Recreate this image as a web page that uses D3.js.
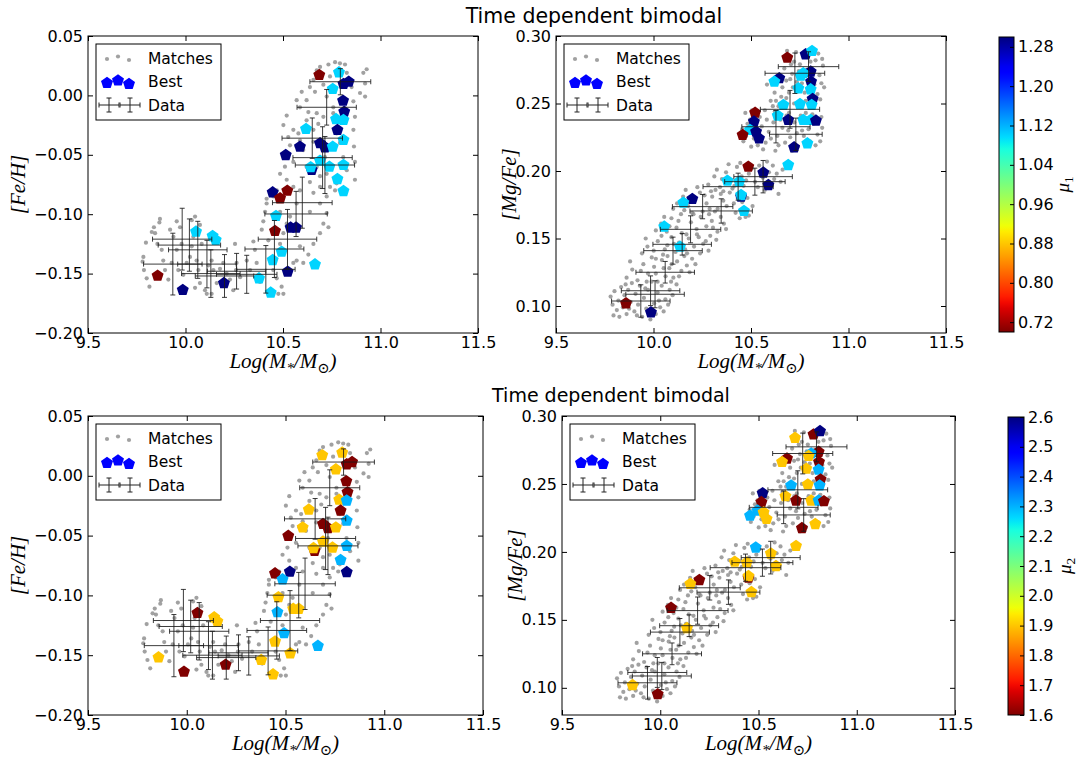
<!DOCTYPE html>
<html><head><meta charset="utf-8">
<script src="https://cdn.jsdelivr.net/npm/d3@7"></script>
<style>body{margin:0;background:#fff;} svg{display:block;}</style>
</head><body><svg id="chart" width="1078" height="762"></svg>
<script>
// ---------------- DATA ----------------
const titleText = "Time dependent bimodal";
const xTicks = [9.5, 10.0, 10.5, 11.0, 11.5];
const feTicks = [-0.20, -0.15, -0.10, -0.05, 0.00, 0.05];
const mgTicks = [0.10, 0.15, 0.20, 0.25, 0.30];
const mu1Ticks = [0.72, 0.80, 0.88, 0.96, 1.04, 1.12, 1.20, 1.28];
const mu2Ticks = [1.6, 1.7, 1.8, 1.9, 2.0, 2.1, 2.2, 2.3, 2.4, 2.5, 2.6];
const mu1Range = [0.70, 1.30];
const mu2Range = [1.6, 2.6];

// "Matches" models: [log M*, [Fe/H]]
const matchesFe = [
[9.869,-0.104],[9.866,-0.107],[9.838,-0.111],[9.827,-0.115],[9.797,-0.124],[9.784,-0.136],[9.780,-0.140],[9.787,-0.147],[9.801,-0.154],[9.815,-0.161],
[9.844,-0.116],[9.856,-0.125],[9.878,-0.130],[9.886,-0.139],[9.895,-0.147],[9.912,-0.155],[9.921,-0.113],[9.938,-0.119],[9.955,-0.106],[9.972,-0.111],
[9.980,-0.125],[9.955,-0.130],[9.929,-0.141],[9.963,-0.147],[9.989,-0.151],[10.006,-0.141],[10.023,-0.136],[10.032,-0.127],[10.040,-0.119],[10.032,-0.105],
[10.049,-0.102],[10.074,-0.109],[10.083,-0.125],[10.057,-0.139],[10.066,-0.147],[10.049,-0.162],[10.074,-0.158],[10.100,-0.164],[10.117,-0.143],[10.134,-0.139],
[10.143,-0.147],[10.109,-0.167],[10.134,-0.167],[10.160,-0.158],[10.177,-0.146],[10.194,-0.141],[10.211,-0.150],[10.228,-0.155],[10.245,-0.164],[10.254,-0.125],
[10.262,-0.141],[10.280,-0.153],[10.259,-0.147],
[10.314,-0.139],[10.331,-0.147],[10.348,-0.123],[10.356,-0.130],[10.365,-0.141],[10.382,-0.157],[10.391,-0.113],[10.399,-0.106],[10.408,-0.098],[10.416,-0.091],
[10.425,-0.122],[10.433,-0.139],[10.450,-0.147],[10.468,-0.154],[10.476,-0.167],[10.493,-0.161],[10.502,-0.167],[10.485,-0.125],[10.502,-0.116],[10.519,-0.108],
[10.536,-0.102],[10.553,-0.141],[10.570,-0.139],[10.587,-0.127],[10.604,-0.141],[10.630,-0.134],[10.656,-0.125],[10.690,-0.116],[10.707,-0.108],[10.724,-0.099],
[10.733,-0.111],[10.690,-0.091],[10.638,-0.098],[10.570,-0.091],[10.485,-0.098],
[10.502,-0.025],[10.519,-0.017],[10.527,-0.035],[10.536,-0.042],[10.553,-0.029],[10.570,-0.004],[10.587,-0.010],[10.596,0.003],[10.621,-0.004],[10.638,0.007],
[10.656,0.013],[10.664,0.003],[10.673,0.021],[10.690,0.024],[10.707,0.009],[10.733,0.026],[10.741,0.016],[10.767,0.028],[10.792,0.027],[10.818,0.026],
[10.827,0.019],[10.852,0.007],[10.861,-0.005],[10.869,-0.018],[10.861,-0.029],[10.864,-0.043],[10.869,-0.056],[10.869,-0.071],[10.827,-0.063],[10.809,-0.052],
[10.775,-0.074],[10.767,-0.080],[10.741,-0.077],[10.724,-0.066],[10.690,-0.068],[10.673,-0.060],[10.638,-0.073],[10.621,-0.060],[10.604,-0.046],[10.587,-0.038],
[10.579,-0.032],[10.656,-0.029],[10.681,-0.024],[10.707,-0.018],[10.758,-0.015],[10.775,-0.032],[10.792,-0.040],[10.715,-0.052],[10.912,0.019],[10.921,0.010],
[10.929,0.022],[10.921,-0.001],[10.895,0.002],[10.690,-0.038],[10.656,-0.039],[10.630,-0.014],[10.724,-0.001],[10.758,-0.010],[10.673,-0.015],[10.621,-0.021],
[10.570,-0.043],[10.553,-0.056],[10.510,-0.060],[10.485,-0.066],[10.468,-0.080],[10.416,-0.087],[10.450,-0.085],[10.519,-0.071],[10.553,-0.077],[10.587,-0.080],
[10.656,-0.082],[10.724,-0.085],[10.690,-0.077]
];

// "Matches" models: [log M*, [Mg/Fe]]
const matchesMg = [
[9.78,0.107],[9.79,0.101],[9.80,0.111],[9.812,0.097],[9.82,0.104],[9.834,0.114],[9.843,0.099],[9.851,0.108],[9.862,0.094],[9.87,0.112],
[9.883,0.103],[9.889,0.117],[9.902,0.096],[9.908,0.109],[9.921,0.101],[9.93,0.115],[9.942,0.092],[9.951,0.106],[9.963,0.098],[9.972,0.112],
[9.984,0.090],[9.99,0.118],[10.003,0.102],[10.012,0.094],[10.021,0.110],[10.034,0.099],[10.042,0.115],[10.061,0.105],[10.083,0.112],[10.098,0.108],[10.118,0.116],
[9.862,0.121],[9.891,0.127],[9.918,0.119],[9.948,0.131],[9.972,0.124],[10.003,0.129],[10.021,0.118],[10.043,0.134],[10.062,0.122],[10.081,0.128],
[10.102,0.121],[10.121,0.133],[10.143,0.126],[10.171,0.130],[10.198,0.135],[10.072,0.137],[9.991,0.136],
[9.941,0.139],[9.969,0.144],[10.001,0.141],[10.022,0.148],[10.049,0.138],[10.071,0.145],[10.092,0.151],[10.113,0.140],[10.131,0.147],[10.162,0.142],
[10.181,0.150],[10.208,0.144],[10.239,0.139],[10.268,0.148],[10.291,0.152],[10.041,0.152],
[10.012,0.156],[10.039,0.161],[10.068,0.155],[10.092,0.165],[10.118,0.158],[10.141,0.168],[10.169,0.153],[10.192,0.162],[10.221,0.157],[10.242,0.166],
[10.271,0.159],[10.299,0.163],[10.328,0.155],[10.361,0.161],[10.101,0.172],[10.252,0.170],[10.322,0.149],
[10.121,0.176],[10.152,0.181],[10.178,0.174],[10.211,0.179],[10.238,0.184],[10.272,0.176],[10.301,0.181],[10.329,0.172],[10.358,0.178],[10.391,0.184],
[10.421,0.169],[10.442,0.165],[10.461,0.172],[10.489,0.167],[10.412,0.176],[10.482,0.180],[10.508,0.174],
[10.281,0.190],[10.312,0.196],[10.341,0.188],[10.372,0.199],[10.401,0.193],[10.428,0.203],[10.462,0.189],[10.489,0.198],[10.521,0.192],[10.542,0.204],
[10.571,0.186],[10.592,0.199],[10.619,0.194],[10.641,0.183],[10.662,0.201],[10.561,0.195],[10.452,0.196],[10.351,0.194],
[10.461,0.222],[10.482,0.235],[10.501,0.218],[10.522,0.241],[10.541,0.228],[10.562,0.216],[10.581,0.238],[10.602,0.224],[10.622,0.244],[10.641,0.219],
[10.661,0.232],[10.682,0.241],[10.701,0.225],[10.722,0.236],[10.741,0.218],[10.762,0.230],[10.781,0.243],[10.802,0.222],[10.821,0.235],[10.841,0.227],
[10.861,0.240],[10.471,0.243],[10.531,0.231],[10.591,0.229],[10.651,0.238],[10.711,0.215],[10.771,0.226],[10.831,0.219],[10.571,0.245],[10.691,0.230],
[10.601,0.252],[10.621,0.258],[10.641,0.248],[10.661,0.262],[10.681,0.254],[10.701,0.268],[10.721,0.250],[10.741,0.259],[10.761,0.265],[10.781,0.252],
[10.801,0.262],[10.821,0.248],[10.841,0.257],[10.861,0.265],[10.671,0.276],[10.691,0.284],[10.711,0.272],[10.731,0.288],[10.751,0.279],[10.771,0.270],
[10.791,0.285],[10.811,0.276],[10.831,0.282],[10.851,0.271],[10.869,0.278],[10.651,0.270],[10.721,0.281],[10.801,0.290],[10.582,0.264],[10.631,0.266],
[9.795,0.093],[9.825,0.092],[9.857,0.116],[9.875,0.098],[9.915,0.093],[9.958,0.113],[9.995,0.097],[10.028,0.104],[10.052,0.096],[10.075,0.101],[10.09,0.118],
[9.88,0.133],[9.935,0.126],[9.965,0.118],[10.012,0.124],[10.052,0.128],[10.093,0.131],[10.131,0.122],[10.158,0.137],[10.185,0.125],[10.215,0.131],
[9.96,0.150],[10.012,0.135],[10.058,0.142],[10.105,0.146],[10.145,0.154],[10.172,0.139],[10.223,0.153],[10.255,0.146],[10.282,0.141],[10.305,0.158],
[10.055,0.166],[10.082,0.159],[10.128,0.163],[10.158,0.171],[10.205,0.168],[10.232,0.151],[10.285,0.168],[10.315,0.170],[10.345,0.166],[10.372,0.157],
[10.165,0.186],[10.198,0.169],[10.225,0.188],[10.262,0.182],[10.288,0.172],[10.318,0.186],[10.345,0.183],[10.375,0.174],[10.405,0.187],[10.432,0.180],[10.455,0.177],[10.472,0.166],
[10.295,0.185],[10.325,0.201],[10.358,0.185],[10.385,0.205],[10.415,0.189],[10.445,0.206],[10.475,0.193],[10.505,0.202],[10.535,0.188],[10.555,0.200],[10.582,0.207],[10.605,0.190],[10.632,0.198],[10.652,0.192],[10.612,0.204],
[10.455,0.231],[10.475,0.226],[10.495,0.238],[10.515,0.224],[10.535,0.219],[10.555,0.233],[10.575,0.221],[10.615,0.236],[10.635,0.226],[10.675,0.221],[10.695,0.243],[10.735,0.228],[10.755,0.241],[10.795,0.231],[10.815,0.242],[10.855,0.222],[10.865,0.232],[10.505,0.245],[10.545,0.240],[10.625,0.215],
[10.612,0.248],[10.655,0.255],[10.695,0.258],[10.735,0.266],[10.775,0.258],[10.815,0.268],[10.855,0.253],[10.875,0.262],[10.685,0.289],[10.715,0.262],[10.745,0.274],[10.765,0.287],[10.805,0.281],[10.845,0.287],[10.865,0.283],[10.705,0.279],[10.785,0.275],[10.825,0.264],[10.681,0.267],[10.628,0.252]
];

// "Best" models in the [Fe/H] panels
const bestFeMass = [10.686,10.787,10.837,10.81,10.755,10.808,10.814,10.772,10.81,10.618,10.779,10.81,10.69,10.715,10.755,10.587,10.514,10.69,10.647,10.642,10.738,10.81,10.779,10.81,10.447,10.522,10.485,10.464,10.539,10.567,10.459,10.493,10.447,10.664,10.524,10.377,10.437,10.197,9.986,9.857,10.054,10.139,10.155];
const bestFeH    = [0.0172,0.0194,0.0115,0.0096,0.0054,-0.0045,-0.0137,-0.020,-0.0207,-0.0283,-0.0291,-0.0375,-0.0403,-0.0437,-0.0432,-0.0432,-0.0502,-0.055,-0.0628,-0.0605,-0.060,-0.0586,-0.0704,-0.0805,-0.0816,-0.0802,-0.0866,-0.1015,-0.1113,-0.1113,-0.1141,-0.1316,-0.1386,-0.1422,-0.1484,-0.154,-0.166,-0.158,-0.1638,-0.1518,-0.1147,-0.1184,-0.1217];
const bestFeMu1  = [0.70,1.10,1.30,1.30,1.10,1.30,1.30,1.10,1.10,1.10,1.30,1.10,1.30,1.30,1.10,1.30,1.30,1.10,1.30,1.10,1.10,1.10,1.10,1.10,1.30,0.70,0.70,1.10,1.30,1.30,0.70,1.10,1.10,1.10,1.30,1.10,1.10,1.30,1.30,0.70,1.10,1.10,1.10];
const bestFeMu2  = [1.9,1.9,1.6,1.6,1.9,1.6,1.6,1.9,2.3,1.9,1.6,2.3,1.6,1.6,1.9,1.9,1.6,1.9,1.6,1.9,1.9,2.3,2.3,2.6,1.6,2.6,2.3,1.9,1.9,1.9,2.3,2.3,1.9,2.3,1.9,1.9,1.9,1.6,1.6,1.9,1.6,1.9,1.9];

// "Best" models in the [Mg/Fe] panels
const bestMgMass = [10.686,10.780,10.813,10.806,10.768,10.755,10.808,10.645,10.62,10.743,10.806,10.816,10.666,10.751,10.811,10.521,10.637,10.691,10.768,10.806,10.833,10.515,10.495,10.526,10.541,10.457,10.789,10.721,10.691,10.486,10.563,10.589,10.379,10.44,10.449,10.449,10.464,10.199,10.153,10.055,10.136,9.859,9.987];
const bestMgFe   = [0.2839,0.2864,0.2889,0.2736,0.2724,0.2706,0.2662,0.2687,0.2662,0.2612,0.2605,0.2533,0.2489,0.2496,0.2489,0.2432,0.241,0.2378,0.2378,0.2378,0.2373,0.2366,0.2304,0.2291,0.2242,0.2267,0.2205,0.2175,0.2044,0.2032,0.1988,0.1896,0.1928,0.1921,0.181,0.1822,0.1704,0.1793,0.1765,0.1588,0.1439,0.1020,0.0953];
const bestMgMu1  = [0.70,1.30,1.10,1.30,1.10,1.10,1.30,1.30,1.10,1.10,1.10,1.30,1.10,1.10,1.10,0.70,1.10,1.30,1.10,1.10,1.30,1.30,1.10,1.30,1.30,0.70,1.10,1.30,1.10,0.70,1.30,1.30,1.10,1.10,1.30,1.10,1.10,1.30,1.10,1.10,1.10,0.70,1.30];
const bestMgMu2  = [1.9,1.6,2.6,1.6,2.3,1.9,1.6,1.6,1.9,1.9,2.3,1.6,2.3,1.9,2.3,2.6,1.9,1.6,1.9,2.3,1.6,1.6,2.3,1.9,1.9,2.3,1.9,1.6,1.9,2.3,1.9,1.9,1.9,1.9,1.6,1.9,1.9,1.6,1.9,1.6,1.9,1.9,1.6];

// Observed "Data" with errors
const dataFeMass    = [9.935,9.983,10.02,10.063,10.11,10.13,10.20,10.262,10.314,10.412,10.456,10.523,10.567,10.599,10.65,10.703,10.715,10.724,10.794];
const dataFeMassErr = [0.15,0.152,0.16,0.15,0.15,0.15,0.15,0.15,0.155,0.15,0.151,0.15,0.16,0.153,0.155,0.152,0.152,0.152,0.156];
const dataFeH       = [-0.142,-0.121,-0.126,-0.130,-0.142,-0.150,-0.152,-0.148,-0.1506,-0.1464,-0.1293,-0.121,-0.0998,-0.0903,-0.036,-0.0524,-0.0586,-0.010,0.0115];
const dataFeHErr    = [0.026,0.026,0.022,0.024,0.020,0.020,0.018,0.015,0.016,0.020,0.024,0.025,0.019,0.0215,0.017,0.026,0.024,0.015,0.011];

const dataMgMass    = [9.935,9.985,10.008,10.06,10.10,10.147,10.19,10.252,10.347,10.434,10.52,10.562,10.628,10.70,10.725,10.73,10.795];
const dataMgMassErr = [0.15,0.15,0.15,0.15,0.15,0.15,0.155,0.155,0.16,0.18,0.155,0.15,0.175,0.152,0.153,0.135,0.155];
const dataMgFe      = [0.1037,0.1113,0.1087,0.125,0.141,0.1457,0.1568,0.1736,0.1704,0.1884,0.1921,0.1958,0.2328,0.2457,0.2724,0.2272,0.2773];
const dataMgFeErr   = [0.012,0.011,0.010,0.008,0.010,0.008,0.010,0.009,0.009,0.010,0.010,0.012,0.012,0.014,0.015,0.012,0.011];

// ---------------- DRAWING ----------------
const svg = d3.select("#chart");
const FONT = "'DejaVu Sans', sans-serif";
const MATH = "'Liberation Serif', 'DejaVu Serif', serif";

function jet(t) {
  t = Math.max(0, Math.min(1, t));
  const f = pts => { for (let i = 1; i < pts.length; i++) { if (t <= pts[i][0]) { const [x0,y0] = pts[i-1], [x1,y1] = pts[i]; return y0 + (y1-y0)*(t-x0)/(x1-x0); } } return pts[pts.length-1][1]; };
  const r = f([[0,0],[0.35,0],[0.66,1],[0.89,1],[1,0.5]]);
  const g = f([[0,0],[0.125,0],[0.375,1],[0.64,1],[0.91,0],[1,0]]);
  const b = f([[0,0.5],[0.11,1],[0.34,1],[0.65,0],[1,0]]);
  return d3.rgb(r*255, g*255, b*255).formatHex();
}
const jetR = t => jet(1 - t);
const color1 = d3.scaleSequential(jetR).domain(mu1Range);
const color2 = d3.scaleSequential(jetR).domain(mu2Range);

function pentagon(R) {
  const p = d3.path();
  for (let k = 0; k < 5; k++) {
    const a = -Math.PI/2 + k*2*Math.PI/5;
    const px = R*Math.cos(a), py = R*Math.sin(a);
    if (k === 0) p.moveTo(px, py); else p.lineTo(px, py);
  }
  p.closePath();
  return p.toString();
}
const PENT = pentagon(6.3);

const matchObjs = arr => arr.map(d => ({m: d[0], v: d[1]}));
const bestObjs = (ms, vs, mus) => ms.map((m, i) => ({m, v: vs[i], mu: mus[i]}));
const dataObjs = (ms, me, vs, ve) => ms.map((m, i) => ({m, me: me[i], v: vs[i], ve: ve[i]}));

function mathLabel(sel, parts, size) {
  parts.forEach(p => {
    const t = sel.append("tspan").text(p.t);
    if (p.sub) t.attr("font-size", size*0.7).attr("dy", size*0.22);
    if (p.up) t.attr("dy", -size*0.22);
    if (p.upright) t.attr("font-style", "normal");
  });
}

function panel(o) {
  const x = d3.scaleLinear().domain([9.5, 11.5]).range([o.l, o.r]);
  const y = d3.scaleLinear().domain(o.yd).range([o.b, o.t]);
  const g = svg.append("g");
  const clipId = "clip" + o.id;
  g.append("clipPath").attr("id", clipId).append("rect")
    .attr("x", o.l).attr("y", o.t).attr("width", o.r - o.l).attr("height", o.b - o.t);
  const plot = g.append("g").attr("clip-path", `url(#${clipId})`);

  plot.append("g").selectAll("circle").data(o.matches).join("circle")
    .attr("cx", d => x(d.m)).attr("cy", d => y(d.v)).attr("r", 2.1)
    .attr("fill", "#8a8a8a").attr("fill-opacity", 0.8);

  plot.append("g").selectAll("path").data(o.best).join("path")
    .attr("d", PENT).attr("transform", d => `translate(${x(d.m)},${y(d.v)})`)
    .attr("fill", d => o.color(d.mu));

  const eb = plot.append("g").attr("stroke", "#1a1a1a").attr("stroke-width", 1).attr("stroke-opacity", 0.85);
  eb.selectAll("line.h").data(o.data).join("line").attr("class", "h")
    .attr("x1", d => x(d.m - d.me)).attr("x2", d => x(d.m + d.me))
    .attr("y1", d => y(d.v)).attr("y2", d => y(d.v));
  eb.selectAll("line.v").data(o.data).join("line").attr("class", "v")
    .attr("x1", d => x(d.m)).attr("x2", d => x(d.m))
    .attr("y1", d => y(d.v - d.ve)).attr("y2", d => y(d.v + d.ve));
  [-1, 1].forEach(s => {
    eb.selectAll(null).data(o.data).join("line")
      .attr("x1", d => x(d.m + s*d.me)).attr("x2", d => x(d.m + s*d.me))
      .attr("y1", d => y(d.v) - 2.5).attr("y2", d => y(d.v) + 2.5);
    eb.selectAll(null).data(o.data).join("line")
      .attr("x1", d => x(d.m) - 2.5).attr("x2", d => x(d.m) + 2.5)
      .attr("y1", d => y(d.v + s*d.ve)).attr("y2", d => y(d.v + s*d.ve));
  });

  // axes with inward ticks on all sides
  const styleAxis = a => {
    a.select(".domain").remove();
    a.selectAll(".tick line").attr("stroke", "#000");
    a.selectAll("text").attr("font-family", FONT).attr("font-size", 16).attr("fill", "#000");
  };
  g.append("g").attr("transform", `translate(0,${o.b})`)
    .call(d3.axisBottom(x).tickValues(xTicks).tickFormat(d3.format(".1f")).tickSize(-5).tickPadding(4)).call(styleAxis);
  g.append("g").attr("transform", `translate(0,${o.t})`)
    .call(d3.axisTop(x).tickValues(xTicks).tickFormat("").tickSize(-5)).call(styleAxis);
  g.append("g").attr("transform", `translate(${o.l},0)`)
    .call(d3.axisLeft(y).tickValues(o.yTicks).tickFormat(d3.format(".2f")).tickSize(-5).tickPadding(5)).call(styleAxis);
  g.append("g").attr("transform", `translate(${o.r},0)`)
    .call(d3.axisRight(y).tickValues(o.yTicks).tickFormat("").tickSize(-5)).call(styleAxis);
  g.append("rect").attr("x", o.l).attr("y", o.t).attr("width", o.r - o.l).attr("height", o.b - o.t)
    .attr("fill", "none").attr("stroke", "#000").attr("stroke-width", 1);

  // axis labels
  const xl = g.append("text").attr("x", (o.l + o.r)/2).attr("y", o.b + 35)
    .attr("text-anchor", "middle").attr("font-family", MATH).attr("font-style", "italic").attr("font-size", 21);
  mathLabel(xl, [{t: "Log(M"}, {t: "*", sub: true}, {t: "/M", up: true}, {t: "\u2299", sub: true, upright: true}, {t: ")", up: true}], 21);
  const yl = g.append("text").attr("transform", `translate(${o.ylx},${(o.t + o.b)/2}) rotate(-90)`)
    .attr("text-anchor", "middle").attr("font-family", MATH).attr("font-style", "italic").attr("font-size", 21);
  yl.text(o.ylabel);

  // legend
  const bx = o.l + 8, by = o.t + 8;
  const lg = g.append("g");
  lg.append("rect").attr("x", bx).attr("y", by).attr("width", 125).attr("height", 76)
    .attr("fill", "#fff").attr("stroke", "#000").attr("stroke-width", 1);
  const mx = [bx + 11, bx + 22, bx + 33];
  const offs = [1, -1.5, 2];
  lg.selectAll(null).data(mx).join("circle").attr("cx", d => d).attr("cy", (d, i) => by + 14 + offs[i])
    .attr("r", 2.1).attr("fill", "#8a8a8a").attr("fill-opacity", 0.8);
  lg.selectAll(null).data(mx).join("path").attr("d", PENT)
    .attr("transform", (d, i) => `translate(${d},${by + 38 + offs[i]})`).attr("fill", "#0000ff");
  const cy = by + 61;
  [bx + 13, bx + 34].forEach(cx => {
    lg.append("line").attr("x1", cx - 10).attr("x2", cx + 10).attr("y1", cy).attr("y2", cy).attr("stroke", "#222");
    lg.append("line").attr("x1", cx).attr("x2", cx).attr("y1", cy - 7).attr("y2", cy + 7).attr("stroke", "#222");
    [-10, 10].forEach(dx => lg.append("line").attr("x1", cx + dx).attr("x2", cx + dx).attr("y1", cy - 2.5).attr("y2", cy + 2.5).attr("stroke", "#222"));
    [-7, 7].forEach(dy => lg.append("line").attr("x1", cx - 2.5).attr("x2", cx + 2.5).attr("y1", cy + dy).attr("y2", cy + dy).attr("stroke", "#222"));
  });
  const labels = ["Matches", "Best", "Data"];
  lg.selectAll("text").data(labels).join("text")
    .attr("x", bx + 52).attr("y", (d, i) => by + 14 + i*23.5).attr("dy", "0.36em")
    .attr("font-family", FONT).attr("font-size", 15.5).attr("fill", "#000").text(d => d);
}

function colorbar(o) {
  const y = d3.scaleLinear().domain(o.domain).range([o.b, o.t]);
  const gid = "grad" + o.id;
  const grad = svg.append("defs").append("linearGradient").attr("id", gid)
    .attr("x1", 0).attr("y1", 1).attr("x2", 0).attr("y2", 0);
  d3.range(0, 1.0001, 0.02).forEach(t => grad.append("stop").attr("offset", t).attr("stop-color", jetR(t)));
  const g = svg.append("g");
  g.append("rect").attr("x", o.l).attr("y", o.t).attr("width", o.w).attr("height", o.b - o.t)
    .attr("fill", `url(#${gid})`).attr("stroke", "#000").attr("stroke-width", 1);
  const ax = g.append("g").attr("transform", `translate(${o.l + o.w},0)`)
    .call(d3.axisRight(y).tickValues(o.ticks).tickFormat(d3.format(o.fmt)).tickSize(-4).tickPadding(4));
  ax.select(".domain").remove();
  ax.selectAll(".tick line").attr("stroke", "#000");
  ax.selectAll("text").attr("font-family", FONT).attr("font-size", 16).attr("fill", "#000");
  const lab = g.append("text").attr("transform", `translate(${o.labx},${(o.t + o.b)/2}) rotate(-90)`)
    .attr("text-anchor", "middle").attr("font-family", MATH).attr("font-style", "italic").attr("font-size", 19);
  mathLabel(lab, [{t: "\u03bc"}, {t: o.sub, sub: true, upright: true}], 19);
}

// titles
svg.append("text").attr("x", 594).attr("y", 23).attr("text-anchor", "middle")
  .attr("font-family", FONT).attr("font-size", 20.5).text(titleText);
svg.append("text").attr("x", 611).attr("y", 402).attr("text-anchor", "middle")
  .attr("font-family", FONT).attr("font-size", 19).text(titleText);

const feMatches = matchObjs(matchesFe), mgMatches = matchObjs(matchesMg);
const feData = dataObjs(dataFeMass, dataFeMassErr, dataFeH, dataFeHErr);
const mgData = dataObjs(dataMgMass, dataMgMassErr, dataMgFe, dataMgFeErr);

panel({id: 1, l: 88, r: 478, t: 36, b: 333, yd: [-0.20, 0.05], yTicks: feTicks, ylabel: "[Fe/H]", ylx: 25,
  matches: feMatches, best: bestObjs(bestFeMass, bestFeH, bestFeMu1), data: feData, color: color1});
panel({id: 2, l: 556, r: 946, t: 36, b: 333, yd: [0.08, 0.30], yTicks: mgTicks, ylabel: "[Mg/Fe]", ylx: 516,
  matches: mgMatches, best: bestObjs(bestMgMass, bestMgFe, bestMgMu1), data: mgData, color: color1});
panel({id: 3, l: 88, r: 483, t: 416, b: 715, yd: [-0.20, 0.05], yTicks: feTicks, ylabel: "[Fe/H]", ylx: 25,
  matches: feMatches, best: bestObjs(bestFeMass, bestFeH, bestFeMu2), data: feData, color: color2});
panel({id: 4, l: 562, r: 955, t: 416, b: 715, yd: [0.08, 0.30], yTicks: mgTicks, ylabel: "[Mg/Fe]", ylx: 522,
  matches: mgMatches, best: bestObjs(bestMgMass, bestMgFe, bestMgMu2), data: mgData, color: color2});

colorbar({id: 1, l: 999, w: 15, t: 37, b: 332, domain: mu1Range, ticks: mu1Ticks, fmt: ".2f", labx: 1069, sub: "1"});
colorbar({id: 2, l: 1008, w: 16, t: 417, b: 715, domain: mu2Range, ticks: mu2Ticks, fmt: ".1f", labx: 1071, sub: "2"});
</script></body></html>
